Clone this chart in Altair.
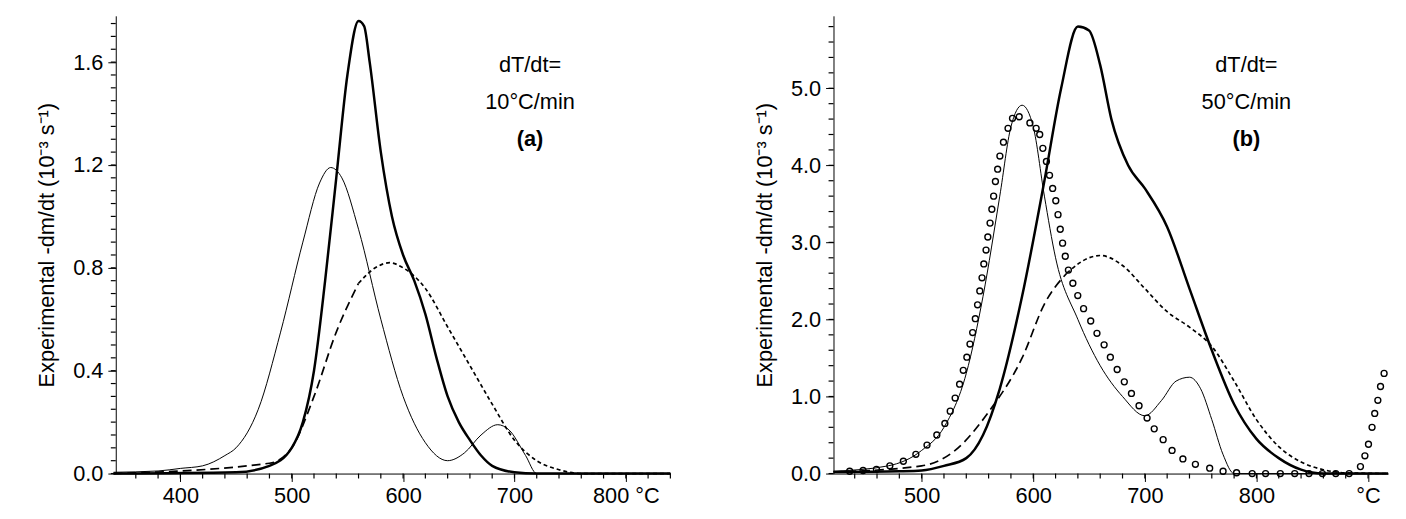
import altair as alt
import pandas as pd

# ---- panel (a): 10 C/min ----
a_T_exp = [340, 450, 480, 500, 510, 520, 530, 540, 550, 560, 565, 570, 580, 590, 600, 610, 620, 630, 640, 650, 660, 670, 680, 700, 720, 840]
a_v_exp = [0.0, 0.005, 0.03, 0.1, 0.2, 0.4, 0.75, 1.15, 1.55, 1.76, 1.74, 1.6, 1.25, 1.0, 0.85, 0.75, 0.62, 0.45, 0.3, 0.2, 0.13, 0.07, 0.03, 0.005, 0.0, 0.0]
a_T_thin = [340, 380, 400, 420, 440, 450, 470, 490, 510, 525, 535, 545, 560, 580, 600, 620, 640, 655, 670, 685, 695, 710, 720, 840]
a_v_thin = [0.005, 0.01, 0.02, 0.03, 0.07, 0.1, 0.25, 0.55, 0.9, 1.13, 1.19, 1.15, 0.95, 0.6, 0.3, 0.12, 0.05, 0.08, 0.15, 0.19, 0.17, 0.07, 0.0, 0.0]
a_T_dash1 = [340, 480, 500, 520, 540, 560]
a_v_dash1 = [0.0, 0.04, 0.1, 0.3, 0.55, 0.74]
a_T_dash2 = [560, 575, 588, 600, 620, 640, 660, 680, 700, 720, 740, 760, 840]
a_v_dash2 = [0.74, 0.8, 0.82, 0.8, 0.72, 0.57, 0.42, 0.27, 0.13, 0.05, 0.015, 0.0, 0.0]

# ---- panel (b): 50 C/min ----
b_T_exp = [421, 480, 500, 520, 540, 555, 570, 590, 610, 625, 640, 650, 660, 670, 685, 700, 720, 740, 760, 780, 800, 820, 840, 860, 918]
b_v_exp = [0.02, 0.03, 0.04, 0.1, 0.2, 0.5, 1.1, 2.3, 3.8, 5.0, 5.8, 5.75, 5.3, 4.6, 4.0, 3.7, 3.2, 2.4, 1.6, 0.9, 0.45, 0.2, 0.05, 0.0, 0.0]
b_T_thin = [421, 470, 500, 520, 540, 555, 570, 580, 590, 600, 610, 620, 640, 660, 680, 700, 715, 728, 740, 750, 760, 770, 780, 918]
b_v_thin = [0.03, 0.1, 0.3, 0.6, 1.3, 2.3, 3.6, 4.5, 4.78, 4.5, 3.6, 2.8, 2.0, 1.4, 1.0, 0.75, 0.95, 1.2, 1.25, 1.1, 0.7, 0.25, 0.0, 0.0]
b_T_dash1 = [421, 500, 530, 560, 590, 610, 630]
b_v_dash1 = [0.02, 0.1, 0.3, 0.8, 1.5, 2.2, 2.6]
b_T_dash2 = [630, 650, 660, 680, 700, 720, 740, 760, 780, 800, 820, 840, 860, 880, 918]
b_v_dash2 = [2.6, 2.8, 2.83, 2.7, 2.4, 2.1, 1.9, 1.65, 1.2, 0.7, 0.35, 0.15, 0.05, 0.01, 0.0]
b_T_circ = [435.5, 447.5, 459.5, 471.5, 483.6, 494.8, 504.8, 513.6, 520.8, 525.6, 530, 534, 537.3, 540.5,
            543.3, 545.7, 548.1, 550.1, 552.1, 554.1, 555.7, 557.7, 559.3, 561.3, 562.9, 564.5, 566.1,
            568.1, 570.1, 573.3, 577.4, 581.4, 587.4, 597, 602.6, 605.8, 608.6, 611.8, 614.6, 617.4,
            620.2, 622.2, 624.2, 626.3, 628.7, 631.5, 635.5, 639.9, 645.1, 651.5, 657.1, 663.5, 669.1,
            675.2, 681.6, 688, 694.8, 702, 708.4, 716.4, 724.4, 734.1, 745.3, 758.1, 770.1, 782.2,
            796.2, 808.2, 821.4, 834.3, 847.1, 859.1, 871.1, 883.1, 893.2, 897.2, 900.4, 903.6, 906,
            908.8, 911.2, 914.4]
b_v_circ = [0.03, 0.04, 0.055, 0.1, 0.16, 0.25, 0.37, 0.5, 0.65, 0.81, 0.98, 1.16, 1.34, 1.51,
            1.68, 1.83, 2.01, 2.19, 2.37, 2.54, 2.72, 2.9, 3.07, 3.25, 3.43, 3.6, 3.79,
            3.95, 4.12, 4.3, 4.48, 4.61, 4.63, 4.55, 4.48, 4.4, 4.22, 4.05, 3.87, 3.7,
            3.54, 3.36, 3.17, 2.99, 2.82, 2.64, 2.47, 2.31, 2.14, 1.98, 1.82, 1.67, 1.51,
            1.35, 1.19, 1.04, 0.88, 0.72, 0.58, 0.44, 0.3, 0.19, 0.12, 0.07, 0.03, 0.01,
            0.0, 0.0, 0.0, 0.0, 0.0, 0.0, 0.0, 0.0, 0.09, 0.23, 0.38, 0.6, 0.78,
            0.95, 1.13, 1.3]

FONT = "Liberation Sans"
YTITLE = "Experimental  -dm/dt  (10⁻³ s⁻¹)"
W, H = 561, 463


def frac(v0, v1, step):
    out, v = [], v0
    while v <= v1 + 1e-9:
        out.append(round(v, 4))
        v += step
    return out


def panel(lines, circles, xdom, ydom, xmaj, xmin, ymaj, ymin, yfmt, xlab, notes):
    xs = alt.Scale(domain=xdom, nice=False, zero=False)
    ys = alt.Scale(domain=ydom, nice=False)
    xax = alt.Axis(values=xmaj, title=None, grid=False, tickSize=8, labelFontSize=22, labelFont=FONT,
                   labelColor="black", domainColor="black", tickColor="black", labelPadding=4,
                   labelExpr="datum.value == %d ? '%s' : datum.label" % (xlab[0], xlab[1]),
                   format="d")
    yax = alt.Axis(values=ymaj, format=yfmt, title=YTITLE, grid=False, tickSize=8, labelFontSize=22,
                   labelFont=FONT, labelColor="black", domainColor="black", tickColor="black",
                   titleFont=FONT, titleFontSize=22, titleFontWeight="normal", titleColor="black",
                   titlePadding=14, labelPadding=5)
    X = lambda: alt.X("T:Q", scale=xs, axis=xax)
    Y = lambda: alt.Y("v:Q", scale=ys, axis=yax)
    layers = []
    for T, v, width, dash in lines:
        df = pd.DataFrame({"T": T, "v": v})
        kw = dict(color="black", strokeWidth=width, interpolate="monotone")
        if dash:
            kw["strokeDash"] = dash
        layers.append(alt.Chart(df).mark_line(**kw).encode(x=X(), y=Y()))
    # minor ticks
    mx = pd.DataFrame({"T": xmin})
    layers.append(alt.Chart(mx).mark_rule(color="black", strokeWidth=1.2)
                  .encode(x=X(), y=alt.value(H), y2=alt.value(H + 5)))
    my = pd.DataFrame({"v": ymin})
    layers.append(alt.Chart(my).mark_rule(color="black", strokeWidth=1.2)
                  .encode(y=Y(), x=alt.value(-5), x2=alt.value(0)))
    if circles is not None:
        cdf = pd.DataFrame({"T": circles[0], "v": circles[1]})
        layers.append(alt.Chart(cdf).mark_point(shape="circle", size=36, color="black", strokeWidth=1.4,
                                                opacity=1, filled=False)
                      .encode(x=X(), y=Y()))
    ndf = pd.DataFrame({"T": [notes[0]] * 3, "v": notes[1], "txt": notes[2]})
    for k, w in enumerate(["normal", "normal", "bold"]):
        layers.append(alt.Chart(ndf.iloc[[k]]).mark_text(font=FONT, fontSize=22, color="black", fontWeight=w)
                      .encode(x=X(), y=Y(), text="txt:N"))
    return alt.layer(*layers).properties(width=W, height=H)


pa = panel(
    [(a_T_exp, a_v_exp, 2.5, None), (a_T_thin, a_v_thin, 1.0, None),
     (a_T_dash1, a_v_dash1, 1.7, [9, 5]), (a_T_dash2, a_v_dash2, 1.7, [4, 3])],
    None, [342, 840], [0, 1.78], [400, 500, 600, 700, 800], frac(360, 840, 20),
    [0, 0.4, 0.8, 1.2, 1.6], frac(0, 1.75, 0.05), ".1f", (800, "800 °C"),
    (714, [1.59, 1.445, 1.30], ["dT/dt=", "10°C/min", "(a)"]))

pb = panel(
    [(b_T_exp, b_v_exp, 2.5, None), (b_T_thin, b_v_thin, 1.0, None),
     (b_T_dash1, b_v_dash1, 1.7, [9, 5]), (b_T_dash2, b_v_dash2, 1.7, [4, 3])],
    (b_T_circ, b_v_circ), [421, 918], [0, 5.94], [500, 600, 700, 800, 900], frac(440, 918, 20),
    [0, 1, 2, 3, 4, 5], frac(0, 5.9, 0.2), ".1f", (900, "°C"),
    (791, [5.3, 4.82, 4.34], ["dT/dt=", "50°C/min", "(b)"]))

chart = alt.hconcat(pa, pb, spacing=79).configure_view(stroke=None).properties(
    padding={"left": 28, "top": 5, "right": 5, "bottom": 5})
chart.save("out.html", embed_options={"renderer": "svg", "actions": False})
